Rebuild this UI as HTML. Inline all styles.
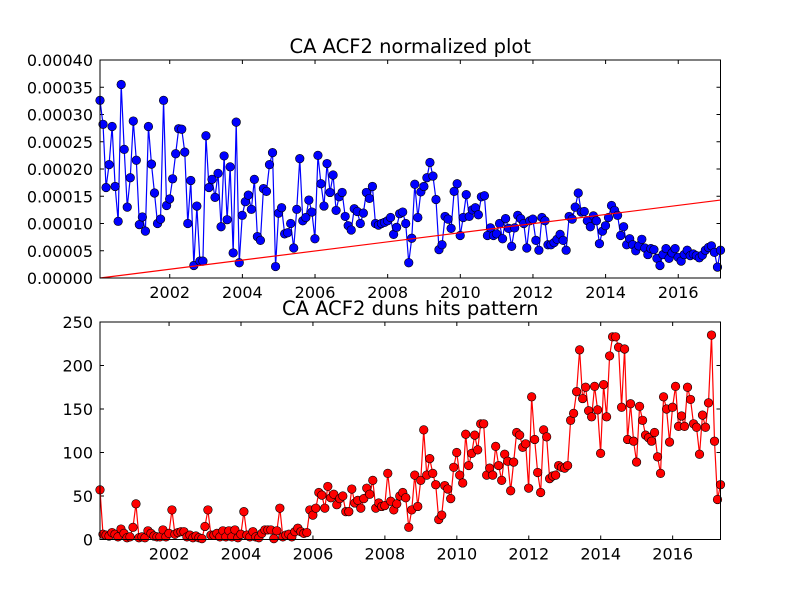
<!DOCTYPE html>
<html><head><meta charset="utf-8"><style>
body{margin:0;background:#fff}
svg{display:block;font-family:"DejaVu Sans","Liberation Sans",sans-serif}
</style></head><body>
<svg id="chart" width="800" height="600" xmlns="http://www.w3.org/2000/svg"></svg>
<script>
const acfValues=[32.6,28.2,16.6,20.8,27.8,16.8,10.4,35.5,23.6,13,18.4,28.8,21.6,9.8,11.2,8.6,27.8,20.9,15.6,10,10.8,32.6,13.3,14.5,18.2,22.8,27.4,27.3,23.1,10,17.9,2.3,13.2,3.1,3.1,26.1,16.6,18.1,14.8,19.2,9.4,22.4,10.7,20.4,4.6,28.6,2.8,11.5,14,15.2,12.6,18.1,7.6,6.9,16.4,15.9,20.8,23,2.1,11.9,12.9,8.1,8.3,10,5.5,12.6,21.9,10.5,11.1,14.3,
12.1,7.2,22.5,17.3,13.2,21,15.7,18.9,12.4,14.9,15.7,11.3,9.6,8.8,12.7,12.2,10,11.9,15.7,14.6,16.8,10,9.7,10,10.2,10.5,11.1,8,9.3,11.8,12.1,10,2.8,7.3,17.2,11.1,15.8,16.8,18.4,21.2,18.7,14.4,5.2,6.1,11.3,10.8,9.1,15.9,17.3,7.8,11.1,15.3,11.3,12.5,12.9,11.6,14.9,15.1,7.8,9.2,7.8,8.1,10,7.2,10.9,9.1,5.8,9.2,
11.5,10.9,10,5.5,10.5,10.8,6.9,5.1,11.1,10.5,6.1,6.1,6.5,7.1,8,6.9,5.1,11.3,10.8,13,15.6,12.1,12.2,10.5,9.4,11.4,10.5,6.3,8.6,9.6,11.1,13.3,12.4,11.5,7.8,9.4,6.1,7.2,6.1,5,5.9,7.1,5.5,4.3,5.4,5.2,3.6,2.3,4.3,5.4,3.6,4.6,5.4,3.8,3.1,4.3,5.1,4.1,4.4,4.1,3.7,4.2,5.1,5.6,5.9,4.7,2,5.1];
const trendValues=[0,14.3];
const hitsValues=[57,6,5,4,8,6,3,12,7,2,3,14,41,2,3,2,10,7,4,3,3,11,3,7,34,6,8,9,9,3,5,2,4,2,1,15,34,5,5,7,3,10,3,10,3,11,2,6,32,5,3,9,3,2,7,11,11,11,1,10,36,3,5,6,3,9,13,9,7,8,34,
28,36,54,51,36,61,48,52,40,47,50,32,32,58,42,45,36,47,59,52,68,36,42,38,39,76,44,34,41,50,54,48,14,34,74,38,68,126,74,93,76,63,23,28,62,58,47,83,100,74,65,121,85,99,120,103,133,133,74,82,74,107,85,68,98,90,56,89,123,
120,106,110,59,164,115,77,54,126,118,70,73,74,85,83,82,85,137,145,170,218,162,175,148,141,176,149,99,178,141,211,233,233,221,152,219,115,156,113,89,153,137,120,117,113,123,95,76,164,150,112,152,176,130,142,130,175,161,133,129,98,143,129,157,235,113,46,63];
const xTickYears=[2002,2004,2006,2008,2010,2012,2014,2016];
const acfTicks=[0,5,10,15,20,25,30,35,40];
const acfTickLabels=["0.00000","0.00005","0.00010","0.00015","0.00020","0.00025","0.00030","0.00035","0.00040"];
const hitsTicks=[0,50,100,150,200,250];

const NS="http://www.w3.org/2000/svg";
const svg=document.getElementById('chart');
function mk(tag,attrs,parent){const e=document.createElementNS(NS,tag);for(const k in attrs)e.setAttribute(k,attrs[k]);(parent||svg).appendChild(e);return e;}
const L=100,R=720.5;
const t0=2000.08;
function xScaleFor(n){const t1=t0+(n-1)/12;return t=>L+(t-t0)/(t1-t0)*(R-L);}

function panel(cfg){
  const g=mk('g',{});
  
  
  const n=cfg.values.length;const xs=xScaleFor(n);
  const ys=v=>cfg.bottom-(v-cfg.min)/(cfg.max-cfg.min)*(cfg.bottom-cfg.top);
  xTickYears.forEach(yr=>{const x=xs(yr);
    const a=mk('line',{x1:x,x2:x,y1:cfg.bottom,y2:cfg.bottom-4,stroke:'#000','stroke-width':1},g);
    
    mk('line',{x1:x,x2:x,y1:cfg.top,y2:cfg.top+4,stroke:'#000','stroke-width':1},g);
    const t=mk('text',{x:x,y:cfg.bottom+20,'font-size':16,'text-anchor':'middle'},g);t.textContent=yr;
    
  });
  cfg.ticks.forEach((v,i)=>{const y=ys(v);
    mk('line',{x1:L,x2:L+4,y1:y,y2:y,stroke:'#000'},g);
    mk('line',{x1:R,x2:R-4,y1:y,y2:y,stroke:'#000'},g);
    const t=mk('text',{x:93,y:y+6,'font-size':16,'text-anchor':'end'},g);t.textContent=cfg.labels[i];
    
  });
  const pts=cfg.values.map((v,i)=>xs(t0+i/12).toFixed(2)+','+ys(v).toFixed(2)).join(' ');
  const pl=mk('polyline',{points:pts,fill:'none',stroke:cfg.color,'stroke-width':1.2},g);
  
  cfg.values.forEach((v,i)=>{const c=mk('circle',{cx:xs(t0+i/12),cy:ys(v),r:4.3,fill:cfg.color,stroke:'#000','stroke-width':0.6},g);
    });
  if(cfg.trend){const tl=mk('line',{x1:L,y1:ys(cfg.trend[0]),x2:R,y2:ys(cfg.trend[1]),stroke:'#ff0000','stroke-width':1.2},g);
    }
  const fr=mk('rect',{x:L,y:cfg.top,width:R-L,height:cfg.bottom-cfg.top,fill:'none',stroke:'#000','stroke-width':1},g);
  
  const ti=mk('text',{x:(L+R)/2,y:cfg.top-7,'font-size':19.5,'text-anchor':'middle'},g);ti.textContent=cfg.title;
  
}
panel({name:'acf-panel',values:acfValues,trend:trendValues,min:0,max:40,top:60,bottom:278,ticks:acfTicks,labels:acfTickLabels,color:'#0000ff',title:'CA ACF2 normalized plot'});
panel({name:'hits-panel',values:hitsValues,min:0,max:250,top:322,bottom:539.5,ticks:hitsTicks,labels:hitsTicks.map(String),color:'#ff0000',title:'CA ACF2 duns hits pattern'});
</script>
</body></html>
